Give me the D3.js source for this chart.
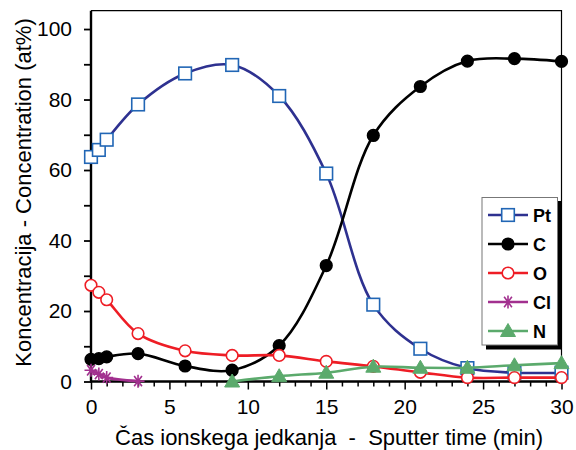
<!DOCTYPE html>
<html><head><meta charset="utf-8">
<script src="https://cdn.jsdelivr.net/npm/d3@7/dist/d3.min.js"></script>
<style>body{margin:0;background:#fff}svg{display:block}</style>
</head><body>
<script>
// ---- data ----
const ptTime = [0, 0.5, 1, 3, 6, 9, 12, 15, 18, 21, 24, 27, 30];
const ptValues = [63.7, 65.7, 68.6, 78.6, 87.4, 89.8, 81.0, 59.0, 21.8, 9.3, 3.8, 2.5, 2.5];
const cTime = [0, 0.5, 1, 3, 6, 9, 12, 15, 18, 21, 24, 27, 30];
const cValues = [6.3, 6.5, 7.0, 7.9, 4.4, 3.2, 10.2, 32.9, 69.8, 83.7, 90.9, 91.6, 90.8];
const oTime = [0, 0.5, 1, 3, 6, 9, 12, 15, 18, 21, 24, 27, 30];
const oValues = [27.3, 25.3, 23.2, 13.6, 8.7, 7.4, 7.4, 5.7, 4.3, 2.6, 1.1, 1.1, 1.1];
const clTime = [0, 0.5, 1, 3];
const clValues = [3.2, 2.1, 1.1, 0.1];
const nTime = [9, 12, 15, 18, 21, 24, 27, 30];
const nValues = [0, 1.5, 2.5, 4.2, 3.9, 3.9, 4.6, 5.2];
const seriesNames = ["Pt", "C", "O", "Cl", "N"];
const xTicks = [0, 5, 10, 15, 20, 25, 30];
const yTicks = [0, 20, 40, 60, 80, 100];
const xTitle = "Čas ionskega jedkanja  -  Sputter time (min)";
const yTitle = "Koncentracija - Concentration (at%)";

const W = 576, H = 450;
const svg = d3.select("body").append("svg").attr("width", W).attr("height", H);
const font = "'Liberation Sans', Arial, sans-serif";

const x = d3.scaleLinear().domain([0, 30]).range([91, 561.5]);
const y = d3.scaleLinear().domain([0, 105.2]).range([381.5, 10.7]);

// frame (top and right)
svg.append("path")
  .attr("d", `M${x(0)},${y(105.2)}H${x(30)}V${y(0)}`)
  .attr("fill", "none").attr("stroke", "#000").attr("stroke-width", 1.2);

// Y axis
const yAx = svg.append("g").attr("transform", `translate(${x(0)},0)`);
yAx.call(d3.axisLeft(y).tickValues(d3.range(0, 101, 10)).tickSize(7).tickFormat(d => yTicks.includes(d) ? d : ""));
yAx.select(".domain").attr("stroke-width", 2.4).attr("d", `M0,${y(105.2)}V${y(0)}`);
yAx.selectAll(".tick line").attr("stroke-width", 1.8);
yAx.selectAll(".tick text").attr("font-family", font).attr("font-size", 21).attr("fill", "#000").attr("x", -19);

// X axis
const xAx = svg.append("g").attr("transform", `translate(0,${y(0)})`);
xAx.call(d3.axisBottom(x).tickValues(d3.range(0, 31, 1)).tickSize(6).tickFormat(d => xTicks.includes(d) ? d : ""));
xAx.select(".domain").attr("stroke-width", 2.4).attr("d", `M${x(0) - 1},0H${x(30)}`);
xAx.selectAll(".tick line").attr("stroke-width", 1.5).attr("y2", d => xTicks.includes(d) ? 8 : 5);
xAx.selectAll(".tick text").attr("font-family", font).attr("font-size", 21).attr("fill", "#000").attr("y", 18);

// titles
svg.append("text").attr("x", 329).attr("y", 445)
  .attr("text-anchor", "middle").attr("font-family", font).attr("font-size", 22)
  .style("white-space", "pre").text(xTitle);
svg.append("text").attr("transform", `translate(31,192.5) rotate(-90)`)
  .attr("text-anchor", "middle").attr("font-family", font).attr("font-size", 22).text(yTitle);

const curve = d3.curveCatmullRom.alpha(0.5);
const line = d3.line().x(d => x(d[0])).y(d => y(d[1])).curve(curve);

const series = [
  { name: "Pt", t: ptTime, v: ptValues, line: "#2E3190", mk: "square", mstroke: "#2166B5", mfill: "#fff" },
  { name: "C", t: cTime, v: cValues, line: "#000", mk: "circle", mstroke: "#000", mfill: "#000" },
  { name: "O", t: oTime, v: oValues, line: "#EE1D25", mk: "circle", mstroke: "#EE1D25", mfill: "#fff" },
  { name: "Cl", t: clTime, v: clValues, line: "#A2308F", mk: "star", mstroke: "#A2308F", mfill: "none" },
  { name: "N", t: nTime, v: nValues, line: "#5BAA6C", mk: "triangle", mstroke: "#5BAA6C", mfill: "#5BAA6C" }
];

function marker(g, s, cx, cy) {
  if (s.mk === "square") {
    g.append("rect").attr("x", cx - 6.3).attr("y", cy - 6.3).attr("width", 12.6).attr("height", 12.6)
      .attr("fill", s.mfill).attr("stroke", s.mstroke).attr("stroke-width", 1.6);
  } else if (s.mk === "circle") {
    g.append("circle").attr("cx", cx).attr("cy", cy).attr("r", 5.8)
      .attr("fill", s.mfill).attr("stroke", s.mstroke).attr("stroke-width", 1.6);
  } else if (s.mk === "star") {
    const r = 6.5;
    let d = `M${cx - r},${cy}H${cx + r}M${cx - r * 0.6},${cy - r * 0.8}L${cx + r * 0.6},${cy + r * 0.8}M${cx + r * 0.6},${cy - r * 0.8}L${cx - r * 0.6},${cy + r * 0.8}M${cx},${cy - r}V${cy + r}`;
    g.append("path").attr("d", d).attr("stroke", s.mstroke).attr("stroke-width", 1.6).attr("fill", "none");
  } else if (s.mk === "triangle") {
    g.append("path").attr("d", `M${cx},${cy - 7.5}L${cx + 7.5},${cy + 5.5}L${cx - 7.5},${cy + 5.5}Z`)
      .attr("fill", s.mfill).attr("stroke", s.mstroke).attr("stroke-width", 1);
  }
}

series.forEach(s => {
  const pts = s.t.map((t, i) => [t, s.v[i]]);
  const g = svg.append("g");
  g.append("path").attr("d", line(pts)).attr("fill", "none").attr("stroke", s.line).attr("stroke-width", 2.6);
  pts.forEach(p => marker(g, s, x(p[0]), y(p[1])));
});

// legend
const lg = svg.append("g");
lg.append("rect").attr("x", 486).attr("y", 201).attr("width", 75.5).attr("height", 148.5).attr("fill", "#000");
lg.append("rect").attr("x", 482).attr("y", 197.5).attr("width", 75.5).attr("height", 147.5)
  .attr("fill", "#fff").attr("stroke", "#777").attr("stroke-width", 1);
series.forEach((s, i) => {
  const cy = 215 + i * 29;
  lg.append("line").attr("x1", 488).attr("x2", 528).attr("y1", cy).attr("y2", cy)
    .attr("stroke", s.line).attr("stroke-width", 2.6);
  marker(lg, s, 508, cy);
  lg.append("text").attr("x", 533).attr("y", cy + 6.5).attr("font-family", font)
    .attr("font-weight", "bold").attr("font-size", 18).text(s.name);
});
</script>
</body></html>
